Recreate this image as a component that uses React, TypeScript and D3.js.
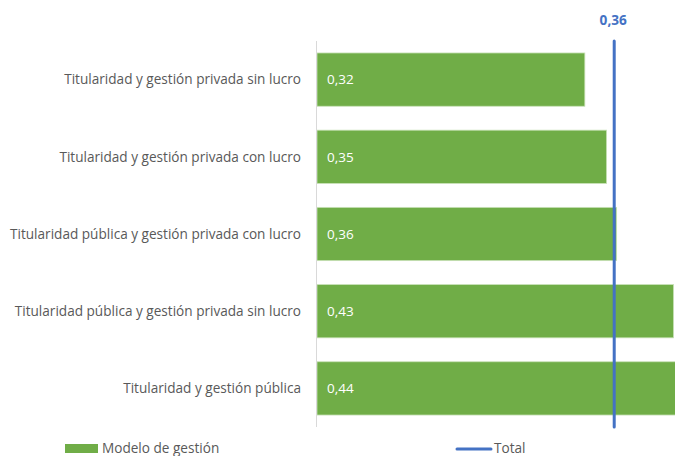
import { useMemo } from "react";
import * as d3 from "d3";

const WIDTH = 675;
const HEIGHT = 456;

const categories = [
  "Titularidad y gestión privada sin lucro",
  "Titularidad y gestión privada con lucro",
  "Titularidad pública y gestión privada con lucro",
  "Titularidad pública y gestión privada sin lucro",
  "Titularidad y gestión pública",
];
const modeloValues = [0.32, 0.346, 0.358, 0.426, 0.44];
const totalValue = 0.3551;
const legendLabels = ["Modelo de gestión", "Total"];

const GREEN = "#70AD47";
const BLUE = "#4472C4";
const FONT = "'Open Sans', sans-serif";

const fmt = (v: number) => v.toFixed(2).replace(".", ",");

export default function App() {
  const x = useMemo(() => d3.scaleLinear().domain([0, 0.45]).range([317, 317 + 0.45 * 837]), []);
  const y = useMemo(
    () => d3.scaleBand().domain(categories).range([41, 427]).paddingInner(0.31).paddingOuter(0.155),
    []
  );

  return (
    <svg
      width={WIDTH}
      height={HEIGHT}
      style={{ position: "fixed", left: 0, top: 0, background: "#fff" }}
      fontFamily={FONT}
    >
      {/* category labels */}
      {categories.map((c) => (
        <text
          key={c}
          x={301}
          y={y(c)! + y.bandwidth() / 2}
          dy="0.35em"
          textAnchor="end"
          fontSize={13.6}
          fill="#595959"
        >
          {c}
        </text>
      ))}

      {/* bars */}
      {categories.map((c, i) => (
        <g key={c}>
          <rect
            x={x(0)}
            y={y(c)}
            width={x(modeloValues[i]) - x(0)}
            height={y.bandwidth()}
            fill={GREEN}
            stroke="#c9e2b8"
            strokeWidth={0.8}
          />
          <text
            x={x(0) + 10}
            y={y(c)! + y.bandwidth() / 2}
            dy="0.35em"
            fontSize={13.5}
            fill="#fff"
          >
            {fmt(modeloValues[i])}
          </text>
        </g>
      ))}

      {/* axis line */}
      <line x1={316.5} x2={316.5} y1={41} y2={427} stroke="#d9d9d9" strokeWidth={1} />

      {/* total line */}
      <line
        x1={x(totalValue)}
        x2={x(totalValue)}
        y1={41}
        y2={427}
        stroke={BLUE}
        strokeWidth={3}
        strokeLinecap="round"
      />
      <text x={x(totalValue) - 1} y={25} textAnchor="middle" fontSize={13.6} fontWeight="bold" fill={BLUE}>
        {fmt(totalValue)}
      </text>

      {/* legend */}
      <rect x={65} y={444} width={33} height={9} fill={GREEN} />
      <text x={102} y={453} fontSize={13.6} fill="#595959">
        {legendLabels[0]}
      </text>
      <line x1={457} x2={491} y1={449} y2={449} stroke={BLUE} strokeWidth={3} strokeLinecap="round" />
      <text x={494} y={453} fontSize={13.6} fill="#595959">
        {legendLabels[1]}
      </text>
    </svg>
  );
}
